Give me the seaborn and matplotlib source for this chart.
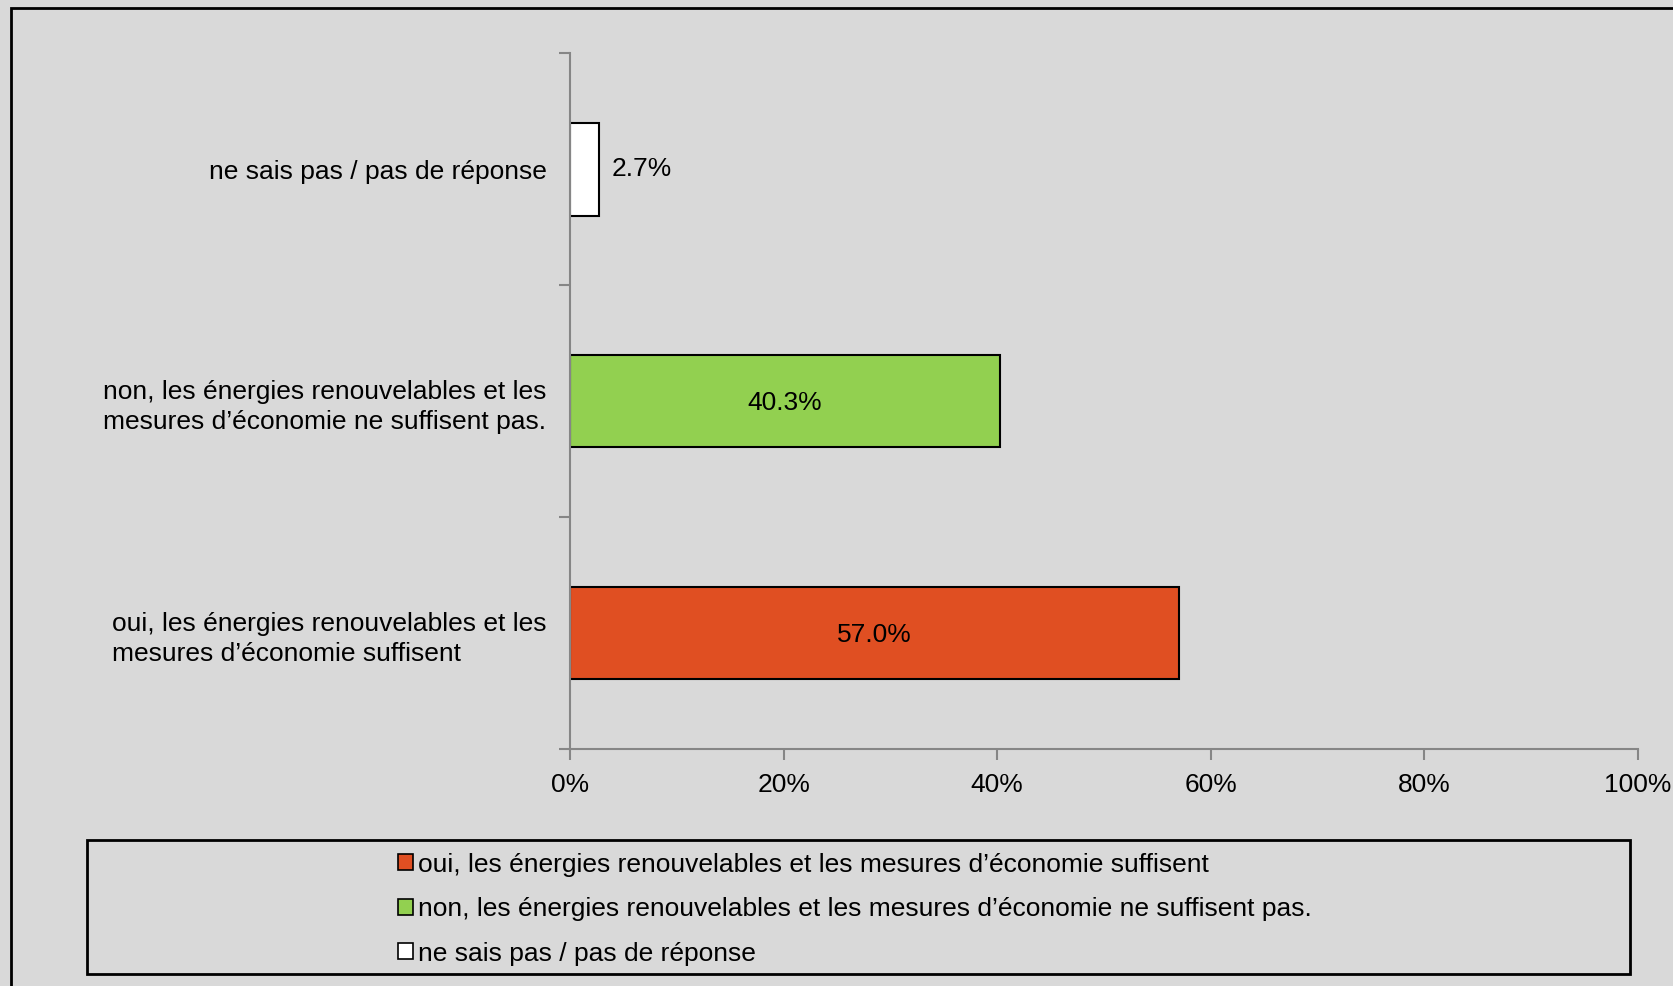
import matplotlib
matplotlib.use("Agg")
import pandas as pd
import seaborn as sns
from matplotlib import pyplot as plt
from matplotlib.patches import Patch, Rectangle
from matplotlib.ticker import FixedLocator, PercentFormatter

# data (top to bottom on the chart)
categories = ["ne sais pas / pas de réponse",
              "non, les énergies renouvelables et les\nmesures d’économie ne suffisent pas.",
              "oui, les énergies renouvelables et les\nmesures d’économie suffisent"]
values = [2.7, 40.3, 57.0]
colors = ["#FFFFFF", "#92D050", "#E04F22"]
legend_labels = ["oui, les énergies renouvelables et les mesures d’économie suffisent",
                 "non, les énergies renouvelables et les mesures d’économie ne suffisent pas.",
                 "ne sais pas / pas de réponse"]
legend_colors = ["#E04F22", "#92D050", "#FFFFFF"]
xticks = [0, 20, 40, 60, 80, 100]

df = pd.DataFrame({"cat": categories, "val": values})

sns.set_style("white")
plt.rcParams["font.family"] = ["Liberation Sans", "DejaVu Sans"]
plt.rcParams["text.color"] = "black"
plt.rcParams["xtick.color"] = "black"
plt.rcParams["ytick.color"] = "black"
bg = "#D9D9D9"
axis_col = "#868686"
fs = 19

fig = plt.figure(figsize=(16.73, 9.86), dpi=100, facecolor=bg)
ax = fig.add_axes([0.3407, 0.2404, 0.979 - 0.3407, 0.946 - 0.2404])
ax.set_facecolor(bg)

sns.barplot(data=df, x="val", y="cat", hue="cat", palette=colors, order=categories,
            hue_order=categories, orient="h", width=0.4, edgecolor="black",
            linewidth=1.5, saturation=1, legend=False, ax=ax)

ax.set_xlim(0, 100)
ax.set_ylim(2.5, -0.5)
ax.set_xlabel("")
ax.set_ylabel("")

# bar labels
for i, v in enumerate(values):
    if v < 10:
        ax.text(v + 1.2, i, f"{v:.1f}%", va="center", ha="left", fontsize=fs)
    else:
        ax.text(v / 2, i + 0.01, f"{v:.1f}%", va="center", ha="center", fontsize=fs)

# axes styling
for s in ["top", "right"]:
    ax.spines[s].set_visible(False)
for s in ["left", "bottom"]:
    ax.spines[s].set_color(axis_col)
    ax.spines[s].set_linewidth(1.5)

ax.set_xticks(xticks)
ax.xaxis.set_major_formatter(PercentFormatter(decimals=0))
ax.tick_params(axis="x", length=8, width=1.5, color=axis_col, labelsize=fs, pad=9,
               direction="out", bottom=True, labelcolor="black")
ax.tick_params(axis="y", which="major", length=0, labelsize=fs, pad=17, labelcolor="black")
ax.yaxis.set_minor_locator(FixedLocator([-0.5, 0.5, 1.5, 2.5]))
ax.tick_params(axis="y", which="minor", length=8, width=1.5, color=axis_col,
               direction="out", left=True)
for lab in ax.get_yticklabels():
    lab.set_multialignment("left")
    lab.set_linespacing(1.35)

# outer frame of the chart area
fig.add_artist(Rectangle((0.0064, -0.1), 1.2, 0.9914 + 0.1, transform=fig.transFigure,
                         fill=False, edgecolor="black", linewidth=2))

# legend box
fig.add_artist(Rectangle((0.0523, 0.0122), 0.974 - 0.0523, 0.136, transform=fig.transFigure,
                         fill=False, edgecolor="black", linewidth=2))
handles = [Patch(facecolor=c, edgecolor="black", linewidth=1.2) for c in legend_colors]
fig.legend(handles, legend_labels, loc="center left", bbox_to_anchor=(0.2303, 0.078),
           frameon=False, fontsize=fs, handlelength=0.55, handleheight=0.55,
           handletextpad=0.2, labelspacing=0.78, borderpad=0)

fig.savefig("out.png", dpi=100, facecolor=bg)
